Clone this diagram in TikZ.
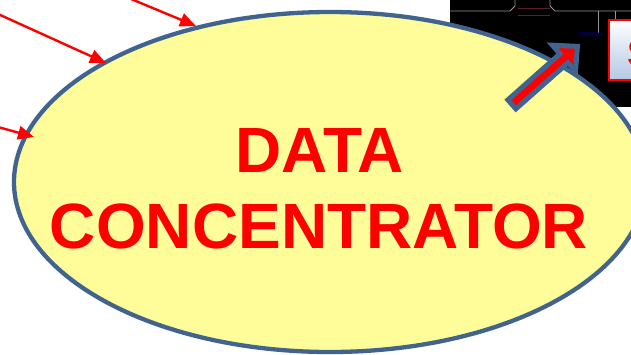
\documentclass[tikz,border=0pt]{standalone}
\usepackage{fontspec}
\setmainfont{Liberation Sans}
\usetikzlibrary{arrows.meta,shapes.geometric}
\definecolor{ellblue}{RGB}{65,99,143}
\definecolor{ellfill}{RGB}{255,253,154}
\definecolor{redtxt}{RGB}{255,0,0}
\definecolor{circgray}{RGB}{150,150,150}
\definecolor{dimred}{RGB}{95,30,40}
\definecolor{boxblue}{RGB}{180,200,228}
\tikzset{
  inarrow/.style={draw=redtxt, line width=2.4pt, -{Triangle[length=16pt,width=13.5pt]}},
  bigtext/.style={text=redtxt, font=\fontsize{64}{76}\selectfont\bfseries, inner sep=0pt, anchor=base},
  circline/.style={draw=circgray, line width=0.9pt},
  blockarrow/.style={draw=ellblue, fill=redtxt, line width=5pt, line join=miter},
}
\begin{document}
\begin{tikzpicture}[x=1pt,y=-1pt]
\useasboundingbox (0,0) rectangle (631,354);
% dark screenshot in the top right corner
\fill[black] (450,0) rectangle (640,107);
\draw[circline] (450,11) -- (510,11) -- (515,6) -- (515,-2);
\draw[circline] (550,-2) -- (550,6) -- (555,11) -- (640,11);
\draw[circline] (598,11) -- (598,33);
\draw[circline] (615,11) -- (615,19);
\draw[dimred, line width=0.8pt] (518,8) -- (550,8);
\draw[dimred, line width=0.8pt] (518,15) -- (550,15);
\fill[blue!60!black, opacity=0.35] (590,34) ellipse (14pt and 2.5pt);
\node[draw=redtxt, line width=1.5pt, top color=white, bottom color=boxblue,
      minimum width=40pt, minimum height=60pt, anchor=north west, inner sep=0pt] (sbox) at (608,19) {};
\node[text=redtxt, font=\fontsize{38}{40}\selectfont\bfseries, anchor=base west, inner sep=0pt] (stext) at (627,66) {S};
% the ellipse
\node[ellipse, draw=ellblue, fill=ellfill, line width=4.3pt,
      minimum width=632pt, minimum height=340pt, inner sep=0pt] (dc) at (330,182) {};
\node[bigtext] (data) at (319.5,172) {DATA};
\node[bigtext] (conc) at (319,248) {CONCENTRATOR};
% incoming arrows
\coordinate (s1) at (-2,14);
\coordinate (t1) at (106,63);
\coordinate (s2) at (131,-1);
\coordinate (t2) at (196,26);
\coordinate (s3) at (-2,127);
\coordinate (t3) at (34,137);
\draw[inarrow] (s1) -- (t1);
\draw[inarrow] (s2) -- (t2);
\draw[inarrow] (s3) -- (t3);
% block arrow towards the screenshot
\begin{scope}[shift={(510,106)}, rotate=41.5]
\draw[blockarrow] (2.5,-6) -- (72,-6) -- (72,-17.5) -- (90,0) -- (72,17.5) -- (72,6) -- (2.5,6) -- cycle;
\end{scope}
\end{tikzpicture}
\end{document}
